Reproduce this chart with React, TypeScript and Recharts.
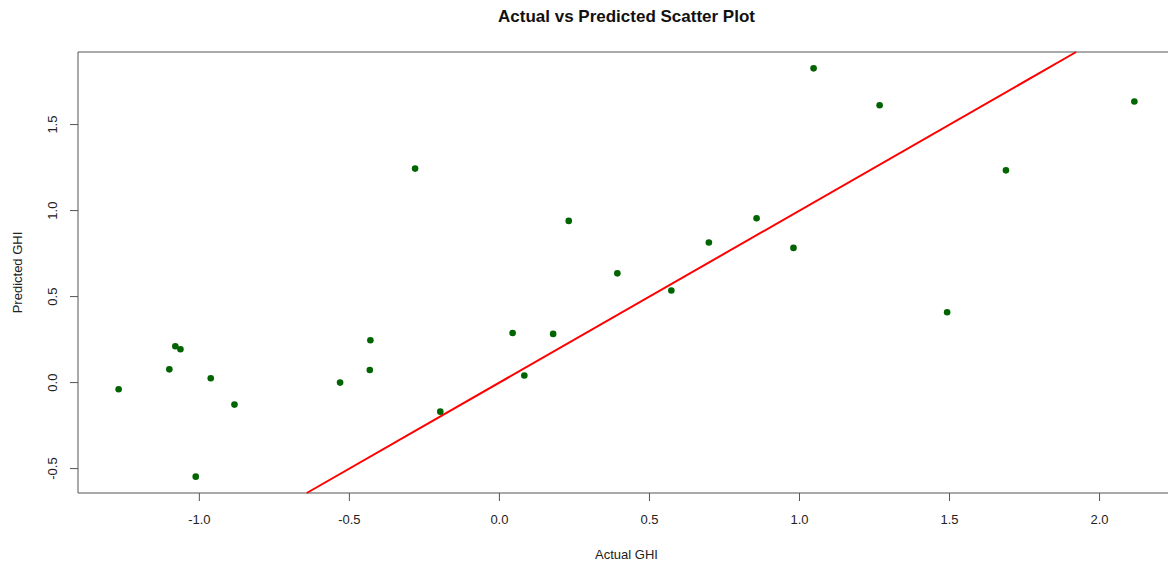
import { ScatterChart, Scatter, XAxis, YAxis, ReferenceLine, ReferenceArea } from 'recharts'

const actual = [
  -1.269, -1.1, -1.08, -1.063, -0.962, -0.883, -1.012, -0.531, -0.43, -0.432,
  -0.197, 0.044, 0.083, 0.179, 0.573, -0.281, 0.231, 0.393, 0.698, 0.857,
  1.047, 1.267, 0.98, 1.688, 2.116, 1.492,
]
const predicted = [
  -0.039, 0.077, 0.211, 0.194, 0.025, -0.128, -0.547, 0.0, 0.246, 0.073,
  -0.169, 0.288, 0.041, 0.283, 0.535, 1.244, 0.94, 0.635, 0.814, 0.955,
  1.827, 1.612, 0.783, 1.234, 1.634, 0.409,
]
const xTicks = [-1, -0.5, 0, 0.5, 1, 1.5, 2]
const yTicks = [-0.5, 0, 0.5, 1, 1.5]

const points = actual.map((a, i) => ({ actual: a, predicted: predicted[i] }))

// R style axis limits: data range padded by 4% each side
function pad(vals: number[]): [number, number] {
  const lo = Math.min(...vals)
  const hi = Math.max(...vals)
  const d = (hi - lo) * 0.04
  return [lo - d, hi + d]
}
const xDomain = pad(actual)
const yDomain = pad(predicted)

const font = '"Liberation Sans", Arial, sans-serif'
const fmt = (v: number) => v.toFixed(1)

function YTick(props: any) {
  const { x, y, payload } = props
  return (
    <text
      x={x - 11}
      y={y}
      transform={`rotate(-90, ${x - 11}, ${y})`}
      textAnchor="middle"
      fontSize={13}
      fontFamily={font}
      fill="#222"
    >
      {fmt(payload.value)}
    </text>
  )
}

function YTitle(props: any) {
  const { viewBox } = props
  const cx = 22
  const cy = viewBox.y + viewBox.height / 2
  return (
    <text
      x={cx}
      y={cy}
      transform={`rotate(-90, ${cx}, ${cy})`}
      textAnchor="middle"
      fontSize={13}
      fontFamily={font}
      fill="#222"
    >
      Predicted GHI
    </text>
  )
}

function Dot(props: any) {
  return <circle cx={props.cx} cy={props.cy} r={3.3} fill="#006400" />
}

export default function App() {
  return (
    <div style={{ position: 'absolute', left: 0, top: 0, width: 1168, height: 566, overflow: 'hidden', background: '#fff' }}>
      <div
        style={{
          position: 'absolute',
          left: 78,
          top: 7,
          width: 1097,
          textAlign: 'center',
          fontFamily: font,
          fontWeight: 'bold',
          fontSize: 17,
          lineHeight: '20px',
          color: '#111',
        }}
      >
        Actual vs Predicted Scatter Plot
      </div>
      <ScatterChart width={1178} height={566} margin={{ top: 52, right: 3, bottom: 0, left: 0 }}>
        <XAxis
          type="number"
          dataKey="actual"
          domain={xDomain}
          ticks={xTicks}
          tickFormatter={fmt}
          allowDataOverflow
          height={73}
          axisLine={false}
          tickSize={8}
          tickMargin={14}
          tickLine={{ stroke: '#555' }}
          tick={{ fontSize: 13, fontFamily: font, fill: '#222' }}
          label={{ value: 'Actual GHI', position: 'insideBottom', offset: 7, fontSize: 13, fontFamily: font, fill: '#222' }}
        />
        <YAxis
          type="number"
          dataKey="predicted"
          domain={yDomain}
          ticks={yTicks}
          allowDataOverflow
          width={78}
          axisLine={false}
          tickSize={8}
          tickLine={{ stroke: '#555' }}
          tick={<YTick />}
          label={{ content: <YTitle /> }}
        />
        <ReferenceArea
          x1={xDomain[0]}
          x2={xDomain[1]}
          y1={yDomain[0]}
          y2={yDomain[1]}
          fill="none"
          fillOpacity={0}
          stroke="#555"
          strokeWidth={1}
        />
        <Scatter data={points} shape={<Dot />} isAnimationActive={false} />
        <ReferenceLine
          segment={[
            { x: yDomain[0], y: yDomain[0] },
            { x: yDomain[1], y: yDomain[1] },
          ]}
          stroke="#ff0000"
          strokeWidth={2}
        />
      </ScatterChart>
    </div>
  )
}
